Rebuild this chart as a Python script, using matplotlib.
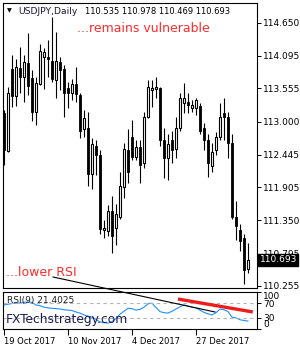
import numpy as np
import matplotlib
matplotlib.use("Agg")
import matplotlib.pyplot as plt
from matplotlib.lines import Line2D
import matplotlib.transforms as mtransforms

plt.rcParams['font.family'] = ['DejaVu Sans']

# daily USDJPY candles, 19 Oct 2017 .. mid Jan 2018
opens = [113.14, 112.50, 113.88, 113.43, 113.90, 113.74, 113.98, 113.73, 113.16, 113.63,
         114.08, 114.08, 114.01, 113.69, 114.00, 113.88, 113.56, 113.48, 113.63, 113.44,
         112.87, 112.89, 112.13, 112.60, 112.44, 111.19, 111.18, 111.51, 111.23, 111.40,
         111.90, 112.52, 112.74, 112.40, 112.57, 112.30, 113.07, 113.53, 113.54, 113.56,
         112.69, 112.39, 112.70, 112.54, 112.89, 113.31, 113.32, 113.22, 113.22, 113.26,
         112.89, 112.69, 112.25, 112.52, 112.74, 113.14, 113.07, 112.64, 111.40, 111.19,
         111.06, 110.535]
highs = [113.19, 113.58, 114.11, 114.05, 114.25, 114.11, 114.48, 113.86, 113.74, 114.30,
         114.23, 114.36, 114.75, 114.50, 114.08, 113.95, 113.66, 113.71, 113.91, 113.48,
         113.19, 113.16, 112.72, 112.69, 112.52, 111.36, 111.61, 111.76, 111.63, 112.15,
         112.64, 112.87, 113.02, 112.69, 112.69, 113.16, 113.69, 113.69, 113.74, 113.58,
         112.89, 112.80, 112.85, 113.07, 113.48, 113.64, 113.48, 113.36, 113.39, 113.31,
         112.97, 112.80, 112.64, 112.82, 113.31, 113.39, 113.16, 112.80, 111.68, 111.29,
         111.13, 110.978]
lows = [112.28, 112.49, 113.24, 113.26, 113.48, 113.32, 113.44, 113.01, 112.94, 113.61,
        113.54, 113.74, 113.66, 113.39, 113.53, 113.07, 113.22, 113.36, 113.32, 112.72,
        112.74, 111.93, 111.88, 112.10, 111.13, 111.06, 111.09, 110.81, 110.93, 111.38,
        111.73, 111.98, 112.35, 112.35, 111.98, 112.22, 113.06, 113.24, 113.39, 112.60,
        112.05, 112.02, 112.30, 112.39, 112.85, 113.14, 113.14, 113.16, 113.11, 112.80,
        112.52, 112.07, 112.15, 112.44, 112.70, 112.69, 112.39, 111.38, 111.03, 110.84,
        110.29, 110.469]
closes = [112.52, 113.48, 113.43, 113.91, 113.74, 114.00, 113.59, 113.16, 113.64, 114.18,
          114.16, 114.05, 113.71, 114.01, 113.86, 113.48, 113.48, 113.63, 113.46, 112.85,
          113.06, 112.13, 112.62, 112.44, 111.21, 111.23, 111.50, 111.09, 111.46, 111.93,
          112.54, 112.15, 112.40, 112.57, 112.28, 113.07, 113.58, 113.56, 113.58, 112.69,
          112.39, 112.62, 112.52, 112.89, 113.39, 113.39, 113.27, 113.27, 113.36, 112.85,
          112.69, 112.30, 112.49, 112.75, 113.07, 113.07, 112.64, 111.40, 111.26, 111.01,
          110.52, 110.693]

rsi = [65, 67, 69, 70, 70, 72, 73, 72, 65, 63,
       59, 57, 56, 55, 54, 52, 51, 50, 46, 43,
       38, 35, 32, 26, 19, 17, 16, 20, 28, 40,
       48, 56, 55, 51, 53, 59, 68, 70, 58, 47,
       44, 43, 48, 54, 60, 65, 62, 59, 57, 51,
       45, 41, 38, 44, 54, 52, 47, 32, 30, 25,
       23, 21.4025]

price_ticks = [114.650, 114.095, 113.555, 113.000, 112.445, 111.905, 111.350, 110.795, 110.255]
date_pos = [0, 16, 32, 48]
date_labels = ["19 Oct 2017", "10 Nov 2017", "4 Dec 2017", "27 Dec 2017"]
rsi_levels = [30, 70]

# trendline on the RSI window: (bar index, rsi value)
red_x = [43.5, 62.2]
red_y = [81, 46]

W, H = 300, 350
fig = plt.figure(figsize=(3.0, 3.5), dpi=100)
ax = fig.add_axes([3/W, 1 - 288/H, 254/W, 285/H])
ax2 = fig.add_axes([3/W, 1 - 329/H, 254/W, 37/H])

opens = np.array(opens)
closes = np.array(closes)
highs = np.array(highs)
lows = np.array(lows)
x = np.arange(len(opens))
up = closes >= opens

ax.vlines(x, lows, highs, color='black', lw=0.8, zorder=2)
ax.bar(x[~up], (opens - closes)[~up], bottom=closes[~up], width=0.7,
       color='black', edgecolor='black', lw=0.6, zorder=3)
hb = np.maximum((closes - opens)[up], 0.015)
ax.bar(x[up], hb, bottom=opens[up], width=0.7,
       facecolor='white', edgecolor='black', lw=0.8, zorder=3)

ax.set_xlim(-0.25, 63.25)
ax.set_ylim(110.22, 114.98)
ax.yaxis.tick_right()
ax.set_yticks(price_ticks)
ax.set_yticklabels(["%.3f" % p for p in price_ticks])
ax.set_xticks([])
ax.tick_params(axis='y', labelsize=6.5, length=3, width=0.7, pad=1.5, direction='out')
for s in ax.spines.values():
    s.set_linewidth(0.8)

# current price box
tr = mtransforms.blended_transform_factory(ax.transAxes, ax.transData)
ax.text(1.01, closes[-1], "%.3f" % closes[-1], transform=tr, color='white',
        fontsize=6.5, va='center', ha='left',
        bbox=dict(boxstyle='square,pad=0.15', fc='black', ec='black'))

# RSI window
ax2.plot(x, rsi, color='#1e90ff', lw=0.8)
for lv in rsi_levels:
    ax2.axhline(lv, color='#b4b4b4', lw=0.8, ls=(0, (3, 3)))
ax2.plot(red_x, red_y, color='#ee1c1c', lw=2.4, solid_capstyle='butt', clip_on=False)
ax2.set_xlim(-0.25, 63.25)
ax2.set_ylim(0, 100)
ax2.yaxis.tick_right()
ax2.set_yticks([0, 30, 70, 100])
ax2.set_yticklabels(["0", "30", "70", "100"])
ax2.tick_params(axis='y', labelsize=6.5, length=3, width=0.7, pad=1.5)
tl = ax2.get_yticklabels()
tl[0].set_va('bottom')
tl[3].set_va('top')
ax2.set_xticks(date_pos)
ax2.set_xticklabels(date_labels, ha='left')
ax2.tick_params(axis='x', labelsize=6, length=4, width=0.7, pad=1.5)
for s in ax2.spines.values():
    s.set_linewidth(0.8)

ax2.text(0.015, 0.78, "RSI(9) 21.4025", transform=ax2.transAxes, fontsize=6.5,
         va='center', ha='left', color='#202020')
ax2.text(0.012, 0.26, "FXTechstrategy.com", transform=ax2.transAxes, fontsize=8.8,
         va='center', ha='left', color='#1c1c50')

# header
fig.text(7/W, 1 - 11/H, "\u25bc", fontsize=4.5, va='center', ha='left', color='black')
fig.text(18/W, 1 - 11/H, "USDJPY,Daily", fontsize=6.7, va='center', ha='left', color='#1a1a3c')
fig.text(85/W, 1 - 11/H, "110.535 110.978 110.469 110.693", fontsize=6,
         va='center', ha='left', color='black')

# commentary
fig.text(77/W, 1 - 28/H, "...remains vulnerable", fontsize=9, va='center', ha='left',
         color='#ff2a2a')
fig.text(6/W, 1 - 273/H, "...lower RSI", fontsize=9, va='center', ha='left',
         color='#ff2a2a')

# black trendline drawn across both windows
fig.add_artist(Line2D([53/W, 215/W], [1 - 277/H, 1 - 312/H], transform=fig.transFigure,
                      color='black', lw=0.8))

fig.savefig("out.png", dpi=100, facecolor='white')
